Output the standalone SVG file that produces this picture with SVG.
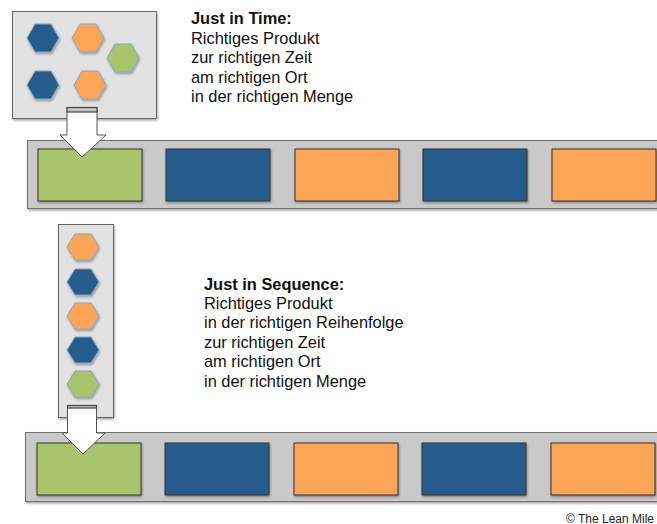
<svg xmlns="http://www.w3.org/2000/svg" width="657" height="524" viewBox="0 0 657 524">
  <defs>
    <filter id="shadow" x="-20%" y="-20%" width="140%" height="150%">
      <feDropShadow dx="0.8" dy="1.5" stdDeviation="1" flood-color="#000" flood-opacity="0.35"/>
    </filter>
    <polygon id="hexA" points="-16,0 -8,-14 8,-14 16,0 8,14 -8,14"/>
    <polygon id="hexB" points="-16,0 -8,-13 8,-13 16,0 8,13 -8,13"/>
    <style>
      .tray { fill: #e2e2e2; stroke: #666; stroke-width: 1; filter: url(#shadow); }
      .belt { fill: #c9c9c9; stroke: #6f6f6f; stroke-width: 1; filter: url(#shadow); }
      .slot { stroke: #333; stroke-width: 1; filter: url(#shadow); }
      .hex { stroke: #86a5c9; stroke-width: 1; filter: url(#shadow); }
      .green { fill: #a9c46b; }
      .blue { fill: #265b8c; }
      .orange { fill: #fba555; }
      .arrow { fill: #fff; stroke: #555; stroke-width: 1; }
      .cap { fill: #c4c4c4; stroke: #444; stroke-width: 1.2; }
      .txt { font-family: "Liberation Sans", Arial, sans-serif; font-size: 16.4px; fill: #111; }
      .title { font-weight: bold; }
      .credit { font-family: "Liberation Sans", Arial, sans-serif; font-size: 12px; fill: #222; }
    </style>
  </defs>

  <!-- Just in Time: parts tray -->
  <g id="jit-tray">
    <rect class="tray" x="12.5" y="11.5" width="144" height="107"/>
    <use href="#hexA" class="hex blue" x="43" y="38"/>
    <use href="#hexA" class="hex orange" x="88" y="38"/>
    <use href="#hexA" class="hex green" x="123" y="58"/>
    <use href="#hexA" class="hex blue" x="43" y="85"/>
    <use href="#hexA" class="hex orange" x="90" y="85"/>
  </g>

  <!-- Just in Time: assembly line -->
  <g id="jit-line">
    <rect class="belt" x="27.5" y="140.5" width="640" height="68"/>
    <rect class="slot green" x="38" y="149" width="104" height="52"/>
    <rect class="slot blue" x="166" y="149" width="104" height="52"/>
    <rect class="slot orange" x="295" y="149" width="104" height="52"/>
    <rect class="slot blue" x="423" y="149" width="104" height="52"/>
    <rect class="slot orange" x="552" y="149" width="104" height="52"/>
  </g>

  <!-- Just in Sequence: parts rack -->
  <g id="jis-rack">
    <rect class="tray" x="58.5" y="224.5" width="55" height="193"/>
    <use href="#hexB" class="hex orange" x="83" y="247"/>
    <use href="#hexB" class="hex blue" x="83" y="282"/>
    <use href="#hexB" class="hex orange" x="83" y="316"/>
    <use href="#hexB" class="hex blue" x="83" y="350"/>
    <use href="#hexB" class="hex green" x="83" y="384"/>
  </g>

  <!-- Just in Sequence: assembly line -->
  <g id="jis-line">
    <rect class="belt" x="25.5" y="432.5" width="640" height="69"/>
    <rect class="slot green" x="37" y="443" width="104" height="52"/>
    <rect class="slot blue" x="165" y="443" width="104" height="52"/>
    <rect class="slot orange" x="294" y="443" width="104" height="52"/>
    <rect class="slot blue" x="422" y="443" width="104" height="52"/>
    <rect class="slot orange" x="551" y="443" width="104" height="52"/>
  </g>

  <!-- supply arrows -->
  <g id="connectors">
    <g id="jit-arrow">
      <polygon class="arrow" points="67,107.5 97,107.5 97,135 106,135 82,157 60,135 67,135"/>
      <rect class="cap" x="67" y="107.5" width="30" height="4.5"/>
    </g>
    <g id="jis-arrow">
      <polygon class="arrow" points="67.5,405.5 96.5,405.5 96.5,433 105,433 83,454 62,433 67.5,433"/>
      <rect class="cap" x="67.5" y="405.5" width="29" height="2.5"/>
    </g>
  </g>

  <!-- labels -->
  <g id="jit-label" class="txt">
    <text x="191" y="24" class="title">Just in Time:</text>
    <text x="191" y="43.5">Richtiges Produkt</text>
    <text x="191" y="63">zur richtigen Zeit</text>
    <text x="191" y="82.5">am richtigen Ort</text>
    <text x="191" y="102">in der richtigen Menge</text>
  </g>
  <g id="jis-label" class="txt">
    <text x="204" y="289.5" class="title">Just in Sequence:</text>
    <text x="204" y="309">Richtiges Produkt</text>
    <text x="204" y="328">in der richtigen Reihenfolge</text>
    <text x="204" y="347.5">zur richtigen Zeit</text>
    <text x="204" y="367">am richtigen Ort</text>
    <text x="204" y="386.5">in der richtigen Menge</text>
  </g>

  <text class="credit" x="566" y="522.5">© The Lean Mile</text>
</svg>
